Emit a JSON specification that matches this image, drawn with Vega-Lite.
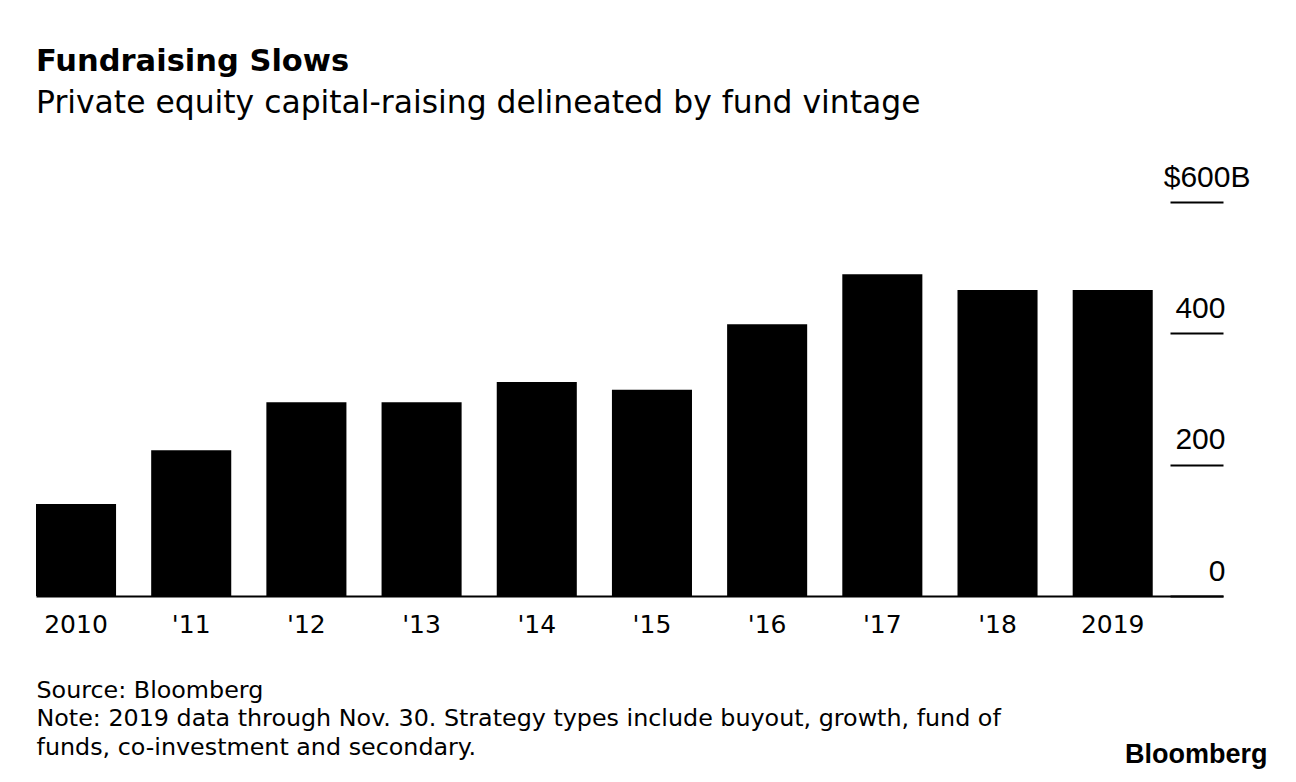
{
  "$schema": "https://vega.github.io/schema/vega-lite/v6.json",
  "width": 1187,
  "height": 394,
  "autosize": {"type": "none"},
  "padding": {"left": 36, "top": 202, "right": 73, "bottom": 186},
  "background": "white",
  "title": {
    "text": "Fundraising Slows",
    "subtitle": "Private equity capital-raising delineated by fund vintage",
    "anchor": "start",
    "frame": "group",
    "font": "DejaVu Sans",
    "subtitleFont": "DejaVu Sans",
    "fontSize": 30.5,
    "fontWeight": "bold",
    "subtitleFontSize": 31.4,
    "color": "black",
    "subtitleColor": "black",
    "subtitlePadding": 10,
    "offset": 43
  },
  "data": {
    "values": [
      {"year": "2010", "value": 140},
      {"year": "'11", "value": 222},
      {"year": "'12", "value": 295},
      {"year": "'13", "value": 295},
      {"year": "'14", "value": 326},
      {"year": "'15", "value": 314},
      {"year": "'16", "value": 414},
      {"year": "'17", "value": 490},
      {"year": "'18", "value": 466},
      {"year": "2019", "value": 466}
    ]
  },
  "mark": {"type": "bar", "color": "black"},
  "encoding": {
    "x": {
      "field": "year",
      "type": "ordinal",
      "sort": null,
      "scale": {"paddingInner": 0.305, "paddingOuter": 0.305, "align": 0},
      "axis": {
        "title": ["Source: Bloomberg", "Note: 2019 data through Nov. 30. Strategy types include buyout, growth, fund of", "funds, co-investment and secondary."],
        "titleAnchor": "start",
        "titleAlign": "left",
        "titleBaseline": "top",
        "titleFont": "DejaVu Sans",
        "titleFontSize": 23.8,
        "titleFontWeight": "normal",
        "titleColor": "black",
        "titleLineHeight": 28.5,
        "titlePadding": 41,
        "labelAngle": 0,
        "labelFont": "DejaVu Sans",
        "labelFontSize": 25,
        "labelColor": "black",
        "labelPadding": 16,
        "ticks": false,
        "domainColor": "black",
        "domainWidth": 2
      }
    },
    "y": {
      "field": "value",
      "type": "quantitative",
      "scale": {"domain": [0, 600]},
      "axis": {
        "orient": "right",
        "values": [0, 200, 400, 600],
        "domain": false,
        "grid": false,
        "tickSize": -53,
        "tickWidth": 2,
        "tickColor": "black",
        "labelAlign": "right",
        "labelBaseline": "alphabetic",
        "labelPadding": 80,
        "labelOffset": -16,
        "labelFont": "Liberation Sans",
        "labelFontSize": 30,
        "labelColor": "black",
        "labelExpr": "datum.value == 600 ? '$600B' : datum.label + '\u00a0\u00a0\u00a0\u200d'",
        "title": "Bloomberg",
        "titleAngle": 0,
        "titleAlign": "right",
        "titleBaseline": "alphabetic",
        "titleX": 44,
        "titleY": 560,
        "titleFont": "Liberation Sans",
        "titleFontSize": 27,
        "titleFontWeight": "bold",
        "titleColor": "black"
      }
    }
  },
  "config": {"view": {"stroke": null}}
}
